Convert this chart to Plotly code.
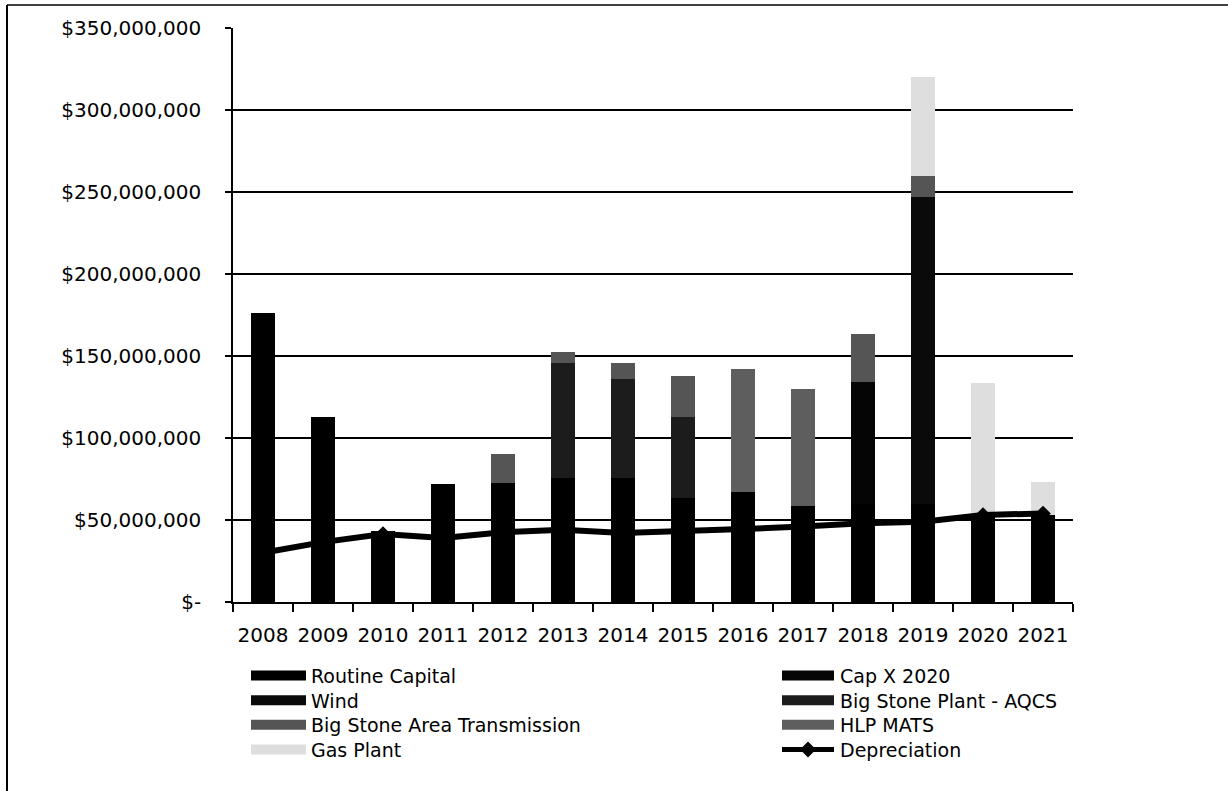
import plotly.graph_objects as go

years = ["2008", "2009", "2010", "2011", "2012", "2013", "2014",
         "2015", "2016", "2017", "2018", "2019", "2020", "2021"]

routine_capital = [176, 113, 43, 72, 72.5, 75.5, 75.5, 63.5, 67, 58.5, 60, 60, 53, 53]
cap_x_2020      = [0, 0, 0, 0, 0, 0, 0, 0, 0, 0, 74, 0, 0, 0]
wind            = [0, 0, 0, 0, 0, 0, 0, 0, 0, 0, 0, 187, 0, 0]
big_stone_aqcs  = [0, 0, 0, 0, 0, 70, 60.5, 49.5, 0, 0, 0, 0, 0, 0]
big_stone_trans = [0, 0, 0, 0, 17.5, 6.8, 9.7, 25, 0, 0, 29.5, 13, 0, 0]
hlp_mats        = [0, 0, 0, 0, 0, 0, 0, 0, 75, 71.5, 0, 0, 0, 0]
gas_plant       = [0, 0, 0, 0, 0, 0, 0, 0, 0, 0, 0, 60, 80.5, 20]
depreciation    = [30, 36.5, 41.5, 39, 42.5, 44, 42, 43, 44.5, 46, 48, 49, 53, 54]

y_tick_values = [0, 50, 100, 150, 200, 250, 300, 350]
y_tick_labels = ["$-", "$50,000,000", "$100,000,000", "$150,000,000", "$200,000,000",
                 "$250,000,000", "$300,000,000", "$350,000,000"]

series = [
    ("Routine Capital", routine_capital, "#000000"),
    ("Cap X 2020", cap_x_2020, "#050505"),
    ("Wind", wind, "#0a0a0a"),
    ("Big Stone Plant - AQCS", big_stone_aqcs, "#1c1c1c"),
    ("Big Stone Area Transmission", big_stone_trans, "#555555"),
    ("HLP MATS", hlp_mats, "#5e5e5e"),
    ("Gas Plant", gas_plant, "#dedede"),
]

FONT = "DejaVu Sans"
LEG_SIZE = 19
W, H = 1228, 791
L, R, T, B = 233, 1073, 28, 602
PW, PH = R - L, B - T

def px(xp):
    return (xp - L) / PW

def py(yp):
    return (B - yp) / PH

fig = go.Figure()
for name, vals, col in series:
    fig.add_trace(go.Bar(x=years, y=vals, name=name, marker=dict(color=col, line=dict(width=0)),
                         showlegend=False))
fig.add_trace(go.Scatter(x=years, y=depreciation, name="Depreciation", mode="lines+markers",
                         line=dict(color="#000000", width=6),
                         marker=dict(symbol="diamond", size=12, color="#000000"),
                         showlegend=False))

shapes = []
annotations = []
# outer frame (top and left)
shapes.append(dict(type="line", xref="paper", yref="paper", x0=px(7), x1=px(1228), y0=py(5), y1=py(5),
                   line=dict(color="#000000", width=1.5)))
shapes.append(dict(type="line", xref="paper", yref="paper", x0=px(7), x1=px(7), y0=py(5), y1=py(791),
                   line=dict(color="#000000", width=2)))

# manual legend (two columns, row-major order)
legend_items = [s[0] for s in series] + ["Depreciation"]
legend_cols = [s[2] for s in series] + [None]
col_x = [(251, 306, 309), (782, 834, 838)]
row_step = LEG_SIZE * 1.3
row_mid = 712.5
row_y = [row_mid + (k - 1.5) * row_step for k in range(4)]
col_texts = [[], []]
for i, (nm, col) in enumerate(zip(legend_items, legend_cols)):
    c, r = i % 2, i // 2
    x0, x1, tx = col_x[c]
    yc = row_y[r]
    col_texts[c].append(nm)
    if col is not None:
        shapes.append(dict(type="rect", xref="paper", yref="paper",
                           x0=px(x0), x1=px(x1), y0=py(yc + 5), y1=py(yc - 5),
                           fillcolor=col, line=dict(width=0)))
    else:
        shapes.append(dict(type="line", xref="paper", yref="paper",
                           x0=px(x0), x1=px(x1), y0=py(yc), y1=py(yc),
                           line=dict(color="#000000", width=5)))
        xm = (x0 + x1) / 2
        shapes.append(dict(type="path", xref="paper", yref="paper",
                           path=f"M {px(xm-8)} {py(yc)} L {px(xm)} {py(yc-8)} L {px(xm+8)} {py(yc)} L {px(xm)} {py(yc+8)} Z",
                           fillcolor="#000000", line=dict(width=0)))
for c in range(2):
    annotations.append(dict(xref="paper", yref="paper", x=px(col_x[c][2]),
                            y=py(row_mid),
                            text="<br>".join(col_texts[c]), align="left",
                            showarrow=False, xanchor="left", yanchor="middle",
                            font=dict(family=FONT, size=LEG_SIZE, color="#000000")))

fig.update_layout(
    width=W, height=H,
    margin=dict(l=L, r=W - R, t=T, b=H - B, pad=0),
    paper_bgcolor="#ffffff", plot_bgcolor="#ffffff",
    barmode="stack", bargap=0.6,
    font=dict(family=FONT, size=20, color="#000000"),
    shapes=shapes, annotations=annotations,
    xaxis=dict(range=[-0.5, 13.5], showline=True, linecolor="#000000", linewidth=1.5,
               ticks="outside", tickson="boundaries", ticklen=8, tickcolor="#000000",
               tickwidth=1.5, showgrid=False, tickangle=0,
               tickfont=dict(family=FONT, size=20, color="#000000"),
               ticklabelstandoff=14),
    yaxis=dict(range=[0, 350], tickvals=y_tick_values, ticktext=y_tick_labels,
               showline=True, linecolor="#000000", linewidth=1.5, ticks="outside",
               ticklen=6, tickcolor="#000000", tickwidth=1.5,
               showgrid=True, gridcolor="#000000", gridwidth=1.5, zeroline=False,
               tickfont=dict(family=FONT, size=20, color="#000000"),
               ticklabelstandoff=20),
)

fig.write_html("out.html")
